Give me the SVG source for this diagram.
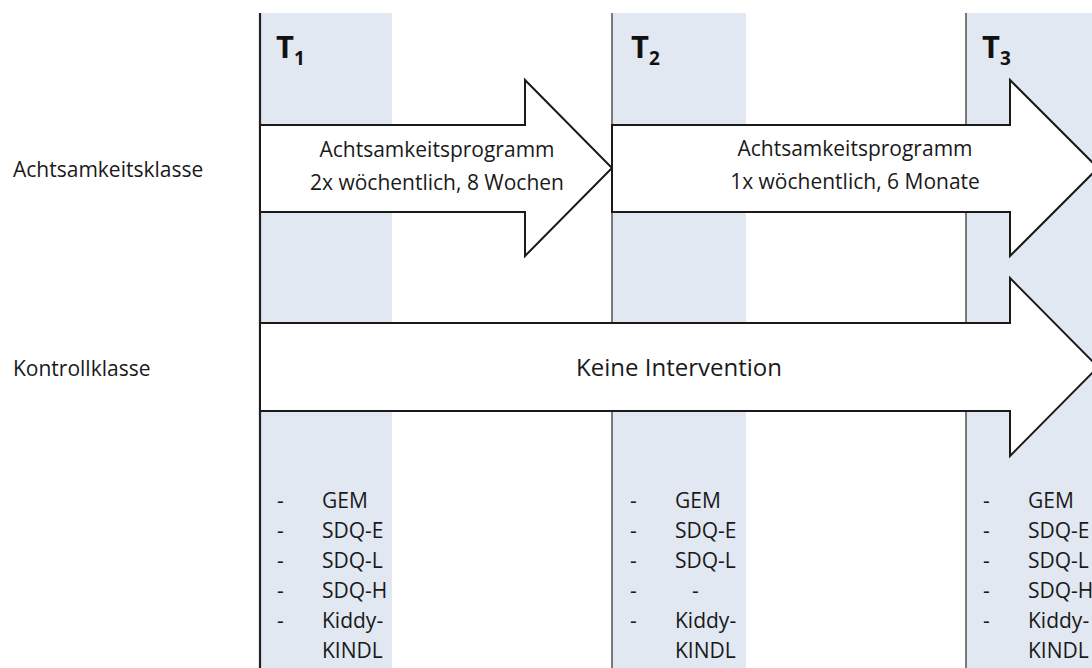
<svg xmlns="http://www.w3.org/2000/svg" width="1092" height="668" viewBox="0 0 1092 668">
  <style>
    .band { fill: #e1e8f2; }
    .vline { stroke: #5a5a5a; stroke-width: 1.6; }
    .vline1 { stroke: #222; stroke-width: 2.2; }
    .arrow { fill: #ffffff; stroke: #1a1a1a; stroke-width: 2; stroke-linejoin: miter; }
    text { font-family: "Open Sans", "Liberation Sans", sans-serif; fill: #1a1a1a; }
    .lbl { font-size: 21px; }
    .atxt { font-size: 21px; text-anchor: middle; }
    .big { font-size: 24px; text-anchor: middle; }
    .hd { font-size: 31px; font-weight: bold; fill: #111; }
    .sub { font-size: 19px; font-weight: bold; fill: #111; }
    .li { font-size: 21px; }
  </style>
  <rect width="1092" height="668" fill="#ffffff"/>

  <g id="bands">
    <rect class="band" x="260" y="13" width="132" height="655"/>
    <rect class="band" x="612" y="13" width="134" height="655"/>
    <rect class="band" x="966" y="13" width="126" height="655"/>
  </g>

  <g id="timelines">
    <line class="vline1" x1="260" y1="13" x2="260" y2="668"/>
    <line class="vline" x1="612" y1="13" x2="612" y2="668"/>
    <line class="vline" x1="966" y1="13" x2="966" y2="668"/>
  </g>

  <g id="T1">
    <text class="hd" x="276" y="58">T<tspan class="sub" dy="7">1</tspan></text>
  </g>
  <g id="T2">
    <text class="hd" x="631" y="58">T<tspan class="sub" dy="7">2</tspan></text>
  </g>
  <g id="T3">
    <text class="hd" x="982" y="58">T<tspan class="sub" dy="7">3</tspan></text>
  </g>

  <g id="labels">
    <text class="lbl" x="13" y="177">Achtsamkeitsklasse</text>
    <text class="lbl" x="13" y="376">Kontrollklasse</text>
  </g>

  <g id="connectors">
    <g id="arrow1">
      <path class="arrow" d="M260,125 H525 V80 L612,168 L525,256 V212 H260 Z"/>
      <text class="atxt" x="437" y="157">Achtsamkeitsprogramm</text>
      <text class="atxt" x="437" y="190">2x wöchentlich, 8 Wochen</text>
    </g>
    <g id="arrow2">
      <path class="arrow" d="M612,125 H1010 V80 L1098,168 L1010,256 V212 H612 Z"/>
      <text class="atxt" x="855" y="156">Achtsamkeitsprogramm</text>
      <text class="atxt" x="855" y="189">1x wöchentlich, 6 Monate</text>
    </g>
    <g id="arrow3">
      <path class="arrow" d="M260,323 H1010 V278 L1098,367 L1010,456 V411 H260 Z"/>
      <text class="big" x="679" y="376">Keine Intervention</text>
    </g>
  </g>

  <g id="list1">
    <text class="li" x="277" y="508">-</text><text class="li" x="322" y="508">GEM</text>
    <text class="li" x="277" y="538">-</text><text class="li" x="322" y="538">SDQ-E</text>
    <text class="li" x="277" y="568">-</text><text class="li" x="322" y="568">SDQ-L</text>
    <text class="li" x="277" y="598">-</text><text class="li" x="322" y="598">SDQ-H</text>
    <text class="li" x="277" y="628">-</text><text class="li" x="322" y="628">Kiddy-</text>
    <text class="li" x="322" y="658">KINDL</text>
  </g>
  <g id="list2">
    <text class="li" x="630" y="508">-</text><text class="li" x="675" y="508">GEM</text>
    <text class="li" x="630" y="538">-</text><text class="li" x="675" y="538">SDQ-E</text>
    <text class="li" x="630" y="568">-</text><text class="li" x="675" y="568">SDQ-L</text>
    <text class="li" x="630" y="598">-</text><text class="li" x="692" y="598">-</text>
    <text class="li" x="630" y="628">-</text><text class="li" x="675" y="628">Kiddy-</text>
    <text class="li" x="675" y="658">KINDL</text>
  </g>
  <g id="list3">
    <text class="li" x="983" y="508">-</text><text class="li" x="1028" y="508">GEM</text>
    <text class="li" x="983" y="538">-</text><text class="li" x="1028" y="538">SDQ-E</text>
    <text class="li" x="983" y="568">-</text><text class="li" x="1028" y="568">SDQ-L</text>
    <text class="li" x="983" y="598">-</text><text class="li" x="1028" y="598">SDQ-H</text>
    <text class="li" x="983" y="628">-</text><text class="li" x="1028" y="628">Kiddy-</text>
    <text class="li" x="1028" y="658">KINDL</text>
  </g>
</svg>
